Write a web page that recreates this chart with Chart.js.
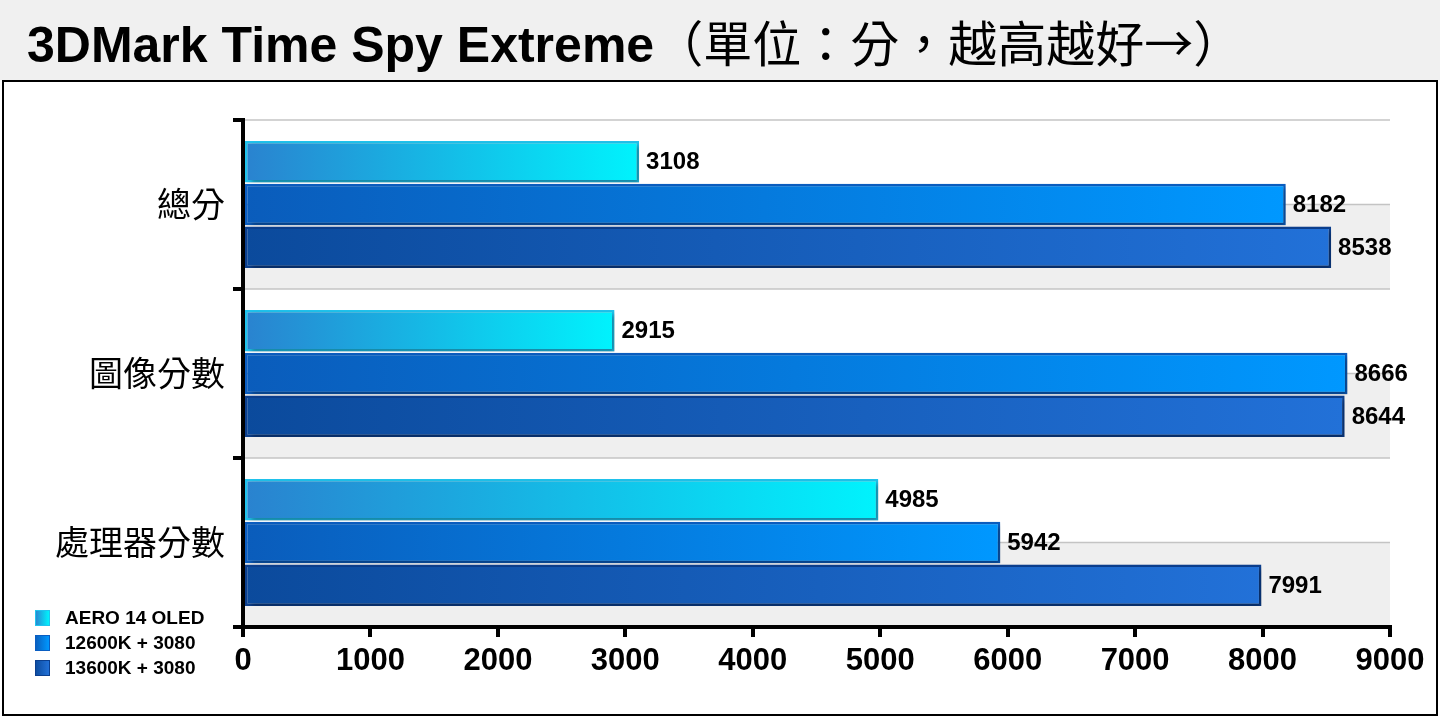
<!DOCTYPE html>
<html lang="zh-Hant">
<head>
    <meta charset="UTF-8">
    <title>3DMark Time Spy Extreme</title>
    <script src="https://cdn.jsdelivr.net/npm/chart.js"></script>
    <style>
        body {
            margin: 0;
            width: 1440px;
            height: 720px;
            background: #fff;
            position: relative;
            overflow: hidden;
        }
        .titlebar {
            position: absolute;
            left: 0;
            top: 0;
            width: 1440px;
            height: 80px;
            background: #f0f0f0;
        }
        .titlebar span {
            position: absolute;
            left: 27px;
            top: 12px;
            font-size: 50px;
            line-height: 58px;
            color: #000;
            white-space: nowrap;
        }
        .titlebar b {
            font-family: "Liberation Sans", Arial, sans-serif;
            font-weight: bold;
        }
        .titlebar i {
            font-style: normal;
            font-family: "Noto Sans CJK TC", sans-serif;
            font-weight: 400;
            font-size: 49px;
        }
        .frame {
            position: absolute;
            left: 2px;
            top: 80px;
            width: 1432px;
            height: 632px;
            border: 2px solid #000;
        }
    </style>
</head>
<body>
    <div class="titlebar"><span><b>3DMark Time Spy Extreme</b><i>（單位：分，越高越好→）</i></span></div>
    <div class="frame">
        <canvas id="spyChart"></canvas>
    </div>

    <script>
        const categories = ['總分', '圖像分數', '處理器分數'];
        const seriesNames = ['AERO 14 OLED', '12600K + 3080', '13600K + 3080'];
        const aeroScores = [3108, 2915, 4985];
        const i12600Scores = [8182, 8666, 5942];
        const i13600Scores = [8538, 8644, 7991];
        const xMin = 0;
        const xMax = 9000;
        const xStep = 1000;

        // gradient colours: left end, right end, border
        const palette = [
            ['#2a82cf', '#00f3fd', '#1fc4ee'],
            ['#0a5cbb', '#0098ff', '#0a5ec2'],
            ['#0b4a9c', '#2271d8', '#0b3f8f']
        ];

        function barFill(i) {
            return function (c) {
                const chart = c.chart;
                const area = chart.chartArea;
                if (!area || c.raw === undefined) return palette[i][1];
                const end = chart.scales.x.getPixelForValue(c.raw);
                const g = chart.ctx.createLinearGradient(area.left, 0, end, 0);
                g.addColorStop(0, palette[i][0]);
                g.addColorStop(1, palette[i][1]);
                return g;
            };
        }

        const bandPlugin = {
            id: 'bands',
            beforeDraw(chart) {
                const { ctx, chartArea, scales } = chart;
                const y = scales.y;
                const half = (y.getPixelForValue(1) - y.getPixelForValue(0)) / 2;
                ctx.save();
                ctx.fillStyle = '#efefef';
                categories.forEach((c, i) => {
                    const mid = y.getPixelForValue(i);
                    ctx.fillRect(chartArea.left, mid, chartArea.right - chartArea.left, half);
                });
                ctx.strokeStyle = '#c4c4c4';
                ctx.lineWidth = 1.5;
                categories.forEach((c, i) => {
                    const mid = y.getPixelForValue(i);
                    [mid - half, mid].forEach(py => {
                        ctx.beginPath();
                        ctx.moveTo(chartArea.left, py);
                        ctx.lineTo(chartArea.right, py);
                        ctx.stroke();
                    });
                });
                ctx.restore();
            }
        };

        const shadowPlugin = {
            id: 'barShadow',
            beforeDatasetsDraw(chart) {
                const ctx = chart.ctx;
                ctx.save();
                ctx.shadowColor = 'rgba(0,0,0,0.35)';
                ctx.shadowBlur = 5;
                ctx.shadowOffsetX = 3;
                ctx.shadowOffsetY = 3;
            },
            afterDatasetsDraw(chart) {
                chart.ctx.restore();
            }
        };

        const valueLabels = {
            id: 'valueLabels',
            afterDatasetsDraw(chart) {
                const ctx = chart.ctx;
                ctx.save();
                ctx.font = 'bold 24px "Liberation Sans", Arial, sans-serif';
                ctx.fillStyle = '#000';
                ctx.textAlign = 'left';
                ctx.textBaseline = 'middle';
                chart.data.datasets.forEach((ds, di) => {
                    chart.getDatasetMeta(di).data.forEach((bar, i) => {
                        ctx.fillText(ds.data[i], bar.x + 7, bar.y + 1);
                    });
                });
                ctx.restore();
            }
        };

        const sideLegend = {
            id: 'sideLegend',
            afterDraw(chart) {
                const ctx = chart.ctx;
                ctx.save();
                ctx.font = 'bold 19px "Liberation Sans", Arial, sans-serif';
                ctx.textBaseline = 'middle';
                chart.data.datasets.forEach((ds, i) => {
                    const cy = 536 + i * 25;
                    const g = ctx.createLinearGradient(31, 0, 45, 0);
                    g.addColorStop(0, palette[i][0]);
                    g.addColorStop(1, palette[i][1]);
                    ctx.fillStyle = g;
                    ctx.fillRect(31, cy - 8, 15, 16);
                    ctx.strokeStyle = palette[i][2];
                    ctx.lineWidth = 1;
                    ctx.strokeRect(31.5, cy - 7.5, 14, 15);
                    ctx.fillStyle = '#000';
                    ctx.fillText(ds.label, 61, cy + 1);
                });
                ctx.restore();
            }
        };

        const ctx = document.getElementById('spyChart').getContext('2d');
        new Chart(ctx, {
            type: 'bar',
            data: {
                labels: categories,
                datasets: [aeroScores, i12600Scores, i13600Scores].map((vals, i) => ({
                    label: seriesNames[i],
                    data: vals,
                    backgroundColor: barFill(i),
                    borderColor: palette[i][2],
                    borderWidth: 2.5,
                    borderSkipped: false,
                    categoryPercentage: 0.76,
                    barPercentage: 0.97
                }))
            },
            options: {
                indexAxis: 'y',
                responsive: true,
                maintainAspectRatio: false,
                animation: false,
                layout: {
                    padding: { top: 38, right: 46, left: 0, bottom: 0 }
                },
                plugins: {
                    legend: { display: false },
                    tooltip: { enabled: false }
                },
                scales: {
                    x: {
                        min: xMin,
                        max: xMax,
                        afterFit(scale) { scale.height = 87; },
                        ticks: {
                            stepSize: xStep,
                            color: '#000',
                            padding: 6,
                            callback: v => String(v),
                            font: { family: '"Liberation Sans", Arial, sans-serif', size: 31, weight: 'bold' }
                        },
                        grid: {
                            drawOnChartArea: false,
                            color: '#000',
                            lineWidth: 4,
                            tickLength: 10
                        },
                        border: { color: '#000', width: 4 }
                    },
                    y: {
                        afterFit(scale) { scale.width = 239; },
                        ticks: {
                            color: '#000',
                            padding: 8,
                            font: { family: '"Noto Sans CJK TC", sans-serif', size: 34 }
                        },
                        grid: {
                            offset: true,
                            drawOnChartArea: false,
                            color: '#000',
                            lineWidth: 4,
                            tickLength: 10
                        },
                        border: { color: '#000', width: 4 }
                    }
                }
            },
            plugins: [bandPlugin, shadowPlugin, valueLabels, sideLegend]
        });
    </script>
</body>
</html>
